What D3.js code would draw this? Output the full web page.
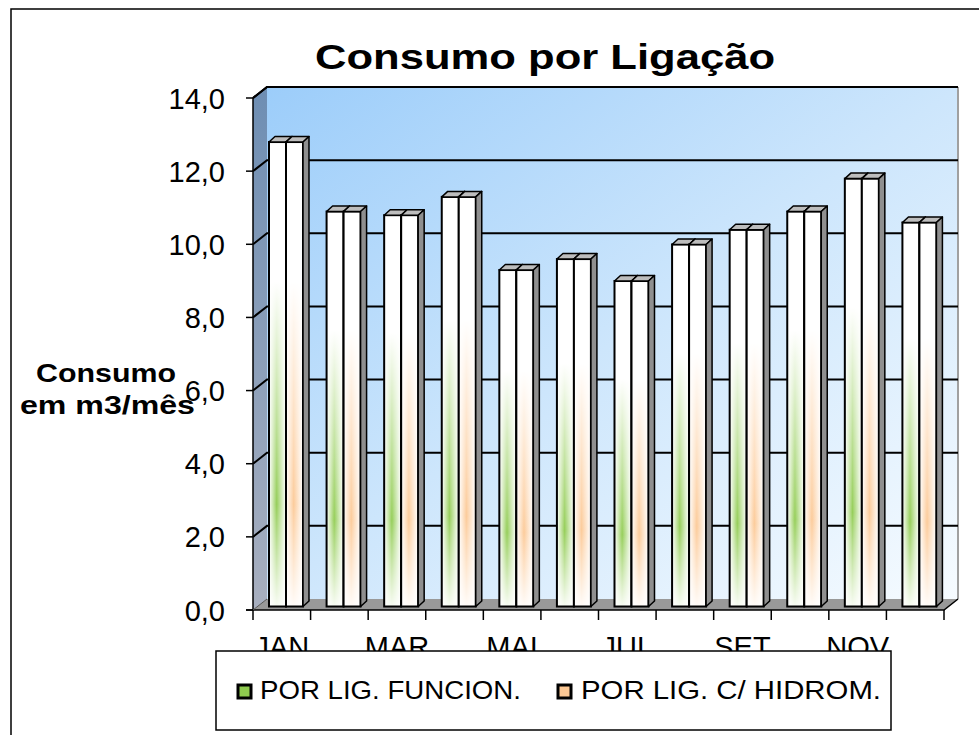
<!DOCTYPE html>
<html>
<head>
<meta charset="utf-8">
<script src="https://cdn.jsdelivr.net/npm/d3@7"></script>
<style>
  html, body { margin: 0; padding: 0; background: #fff; }
  svg { display: block; font-family: "Liberation Sans", Arial, sans-serif; }
</style>
</head>
<body>
<div id="chart"></div>
<script>
// ===== Data =====
const months = ["JAN", "FEV", "MAR", "ABR", "MAI", "JUN", "JUL", "AGO", "SET", "OUT", "NOV", "DEZ"];
const porLigFuncion = [12.7, 10.8, 10.7, 11.2, 9.2, 9.5, 8.9, 9.9, 10.3, 10.8, 11.7, 10.5];
const porLigHidrom  = [12.7, 10.8, 10.7, 11.2, 9.2, 9.5, 8.9, 9.9, 10.3, 10.8, 11.7, 10.5];
const yTicks = [0, 2, 4, 6, 8, 10, 12, 14];
const xLabels = ["JAN", "MAR", "MAI", "JUL", "SET", "NOV"];
const seriesNames = ["POR LIG. FUNCION.", "POR LIG. C/ HIDROM."];

// ===== SVG config =====
const W = 979, H = 735;
const P = { left: 253, right: 944, bottom: 610, top: 98 };
const D = { dx: 14, dy: -11 };      // depth of the 3D box
const S = { dx: 4.5, dy: -3.5 };    // bars sit a little back in the box
const B = { dx: 6, dy: -5.5 };      // depth of each bar

const fmt = d3.formatLocale({ decimal: ",", thousands: ".", grouping: [3], currency: ["R$", ""] }).format(".1f");

const svg = d3.select("#chart").append("svg")
  .attr("width", W).attr("height", H);

const defs = svg.append("defs");

// back wall gradient
const gWall = defs.append("linearGradient").attr("id", "wall")
  .attr("x1", 0).attr("y1", 0).attr("x2", 1).attr("y2", 1);
gWall.append("stop").attr("offset", 0).attr("stop-color", "#9ccdfa");
gWall.append("stop").attr("offset", 0.5).attr("stop-color", "#cde6fc");
gWall.append("stop").attr("offset", 1).attr("stop-color", "#f6fbff");

const gSide = defs.append("linearGradient").attr("id", "side")
  .attr("x1", 0).attr("y1", 0).attr("x2", 0).attr("y2", 1);
gSide.append("stop").attr("offset", 0).attr("stop-color", "#6e8eb3");
gSide.append("stop").attr("offset", 1).attr("stop-color", "#a8afbf");

// bar fills: colored stripe, faded by a vertical mask
const barColors = ["#8fcb4f", "#fcc894"];
barColors.forEach((c, i) => {
  const g = defs.append("linearGradient").attr("id", "bar" + i)
    .attr("x1", 0).attr("y1", 0).attr("x2", 1).attr("y2", 0);
  g.append("stop").attr("offset", 0).attr("stop-color", "#fff");
  g.append("stop").attr("offset", 0.45).attr("stop-color", c);
  g.append("stop").attr("offset", 1).attr("stop-color", "#fff");
});
const gFade = defs.append("linearGradient").attr("id", "fade")
  .attr("x1", 0).attr("y1", 0).attr("x2", 0).attr("y2", 1);
gFade.append("stop").attr("offset", 0).attr("stop-color", "#000");
gFade.append("stop").attr("offset", 0.3).attr("stop-color", "#000");
gFade.append("stop").attr("offset", 0.78).attr("stop-color", "#eee");
gFade.append("stop").attr("offset", 1).attr("stop-color", "#111");
defs.append("mask").attr("id", "fadeMask")
  .attr("maskContentUnits", "objectBoundingBox")
  .append("rect").attr("width", 1).attr("height", 1).attr("fill", "url(#fade)");

// ===== Frame =====
svg.append("rect")
  .attr("x", 11).attr("y", 9).attr("width", 990).attr("height", 760)
  .attr("fill", "#fff").attr("stroke", "#000").attr("stroke-width", 1.5);

// ===== Scales =====
const x = d3.scaleBand().domain(months).range([P.left, P.right]).padding(0);
const y = d3.scaleLinear().domain([0, 14]).range([P.bottom, P.top]);
const bw = x.bandwidth();

// ===== Walls =====
const pts = a => a.map(p => p.join(",")).join(" ");

svg.append("polygon")
  .attr("points", pts([[P.left + D.dx, y(14) + D.dy], [P.right + D.dx, y(14) + D.dy],
                       [P.right + D.dx, y(0) + D.dy], [P.left + D.dx, y(0) + D.dy]]))
  .attr("fill", "url(#wall)");

svg.append("polygon")
  .attr("points", pts([[P.left, y(14)], [P.left + D.dx, y(14) + D.dy],
                       [P.left + D.dx, y(0) + D.dy], [P.left, y(0)]]))
  .attr("fill", "url(#side)");

// right edge of back wall
svg.append("line")
  .attr("x1", P.right + D.dx).attr("x2", P.right + D.dx)
  .attr("y1", y(14) + D.dy).attr("y2", y(0) + D.dy)
  .attr("stroke", "#a0a0a0").attr("stroke-width", 2);

// gridlines (back wall + left wall) and y ticks
yTicks.forEach(v => {
  if (v > 0) {
    svg.append("polyline")
      .attr("points", pts([[P.left, y(v)], [P.left + D.dx, y(v) + D.dy], [P.right + D.dx, y(v) + D.dy]]))
      .attr("fill", "none").attr("stroke", "#000").attr("stroke-width", 2);
  }
  svg.append("line")
    .attr("x1", P.left - 7).attr("x2", P.left)
    .attr("y1", y(v)).attr("y2", y(v))
    .attr("stroke", "#000").attr("stroke-width", 1.5);
  svg.append("text")
    .attr("x", 225).attr("y", y(v) + 10.5)
    .attr("text-anchor", "end")
    .style("font-size", "29px")
    .text(fmt(v));
});

// left axis line
svg.append("line")
  .attr("x1", P.left).attr("x2", P.left).attr("y1", y(14)).attr("y2", y(0))
  .attr("stroke", "#000").attr("stroke-width", 1.5);

// floor
svg.append("polygon")
  .attr("points", pts([[P.left, y(0)], [P.right, y(0)], [P.right + D.dx, y(0) + D.dy], [P.left + D.dx, y(0) + D.dy]]))
  .attr("fill", "#999");
svg.append("polyline")
  .attr("points", pts([[P.left - 7, y(0)], [P.right, y(0)], [P.right + D.dx, y(0) + D.dy]]))
  .attr("fill", "none").attr("stroke", "#000").attr("stroke-width", 1.5);
svg.append("line")
  .attr("x1", P.left).attr("y1", y(0)).attr("x2", P.left + D.dx).attr("y2", y(0) + D.dy)
  .attr("stroke", "#555").attr("stroke-width", 1);

// x ticks at category boundaries
months.concat(["_end"]).forEach((m, i) => {
  const xx = i < months.length ? x(m) : P.right;
  svg.append("line")
    .attr("x1", xx).attr("x2", xx).attr("y1", y(0)).attr("y2", y(0) + 10)
    .attr("stroke", "#000").attr("stroke-width", 1.5);
});

// x labels (every other month)
svg.selectAll(".xlab")
  .data(xLabels)
  .enter().append("text")
  .attr("class", "xlab")
  .attr("x", d => x(d) + bw / 2)
  .attr("y", 657)
  .attr("text-anchor", "middle")
  .style("font-size", "29px")
  .text(d => d);

// ===== Bars =====
const series = [porLigFuncion, porLigHidrom];
const barW = 17;
months.forEach((m, i) => {
  series.forEach((vals, s) => {
    const x0 = x(m) + 11.5 + S.dx + s * barW;
    const yt = y(vals[i]) + S.dy;
    const yb = y(0) + S.dy;
    const g = svg.append("g");
    g.append("rect")
      .attr("x", x0).attr("y", yt).attr("width", barW).attr("height", yb - yt)
      .attr("fill", "#fff");
    g.append("rect")
      .attr("x", x0).attr("y", yt).attr("width", barW).attr("height", yb - yt)
      .attr("fill", `url(#bar${s})`).attr("mask", "url(#fadeMask)");
    g.append("rect")
      .attr("x", x0).attr("y", yt).attr("width", barW).attr("height", yb - yt)
      .attr("fill", "none").attr("stroke", "#000").attr("stroke-width", 2);
    // top face
    g.append("polygon")
      .attr("points", pts([[x0, yt], [x0 + B.dx, yt + B.dy], [x0 + barW + B.dx, yt + B.dy], [x0 + barW, yt]]))
      .attr("fill", "#bdbdbd").attr("stroke", "#000").attr("stroke-width", 1.5)
      .attr("stroke-linejoin", "round");
    // side face
    g.append("polygon")
      .attr("points", pts([[x0 + barW, yt], [x0 + barW + B.dx, yt + B.dy], [x0 + barW + B.dx, yb + B.dy], [x0 + barW, yb]]))
      .attr("fill", "#8f8f8f").attr("stroke", "#000").attr("stroke-width", 1.5)
      .attr("stroke-linejoin", "round");
  });
});

// wall top edge
svg.append("polyline")
  .attr("points", pts([[P.left, y(14)], [P.left + D.dx, y(14) + D.dy], [P.right + D.dx, y(14) + D.dy]]))
  .attr("fill", "none").attr("stroke", "#000").attr("stroke-width", 2);

// ===== Titles =====
svg.append("text")
  .attr("x", 315).attr("y", 69)
  .attr("textLength", 460).attr("lengthAdjust", "spacingAndGlyphs")
  .style("font-size", "35px").style("font-weight", "bold")
  .text("Consumo por Ligação");

svg.append("text")
  .attr("x", 36).attr("y", 382)
  .attr("textLength", 140).attr("lengthAdjust", "spacingAndGlyphs")
  .style("font-size", "26px").style("font-weight", "bold")
  .text("Consumo");
svg.append("text")
  .attr("x", 20).attr("y", 414)
  .attr("textLength", 175).attr("lengthAdjust", "spacingAndGlyphs")
  .style("font-size", "26px").style("font-weight", "bold")
  .text("em m3/mês");

// ===== Legend =====
const legend = svg.append("g");
legend.append("rect")
  .attr("x", 216).attr("y", 651).attr("width", 675).attr("height", 79)
  .attr("fill", "#fff").attr("stroke", "#000").attr("stroke-width", 1.5);

const legItems = [
  { name: seriesNames[0], color: barColors[0], sx: 238, tx: 260, tl: 261 },
  { name: seriesNames[1], color: barColors[1], sx: 558, tx: 581, tl: 300 },
];
legItems.forEach(d => {
  legend.append("rect")
    .attr("x", d.sx).attr("y", 685).attr("width", 13).attr("height", 13)
    .attr("fill", d.color).attr("stroke", "#000").attr("stroke-width", 3);
  legend.append("text")
    .attr("x", d.tx).attr("y", 699)
    .attr("textLength", d.tl).attr("lengthAdjust", "spacingAndGlyphs")
    .style("font-size", "25px")
    .text(d.name);
});
</script>
</body>
</html>
